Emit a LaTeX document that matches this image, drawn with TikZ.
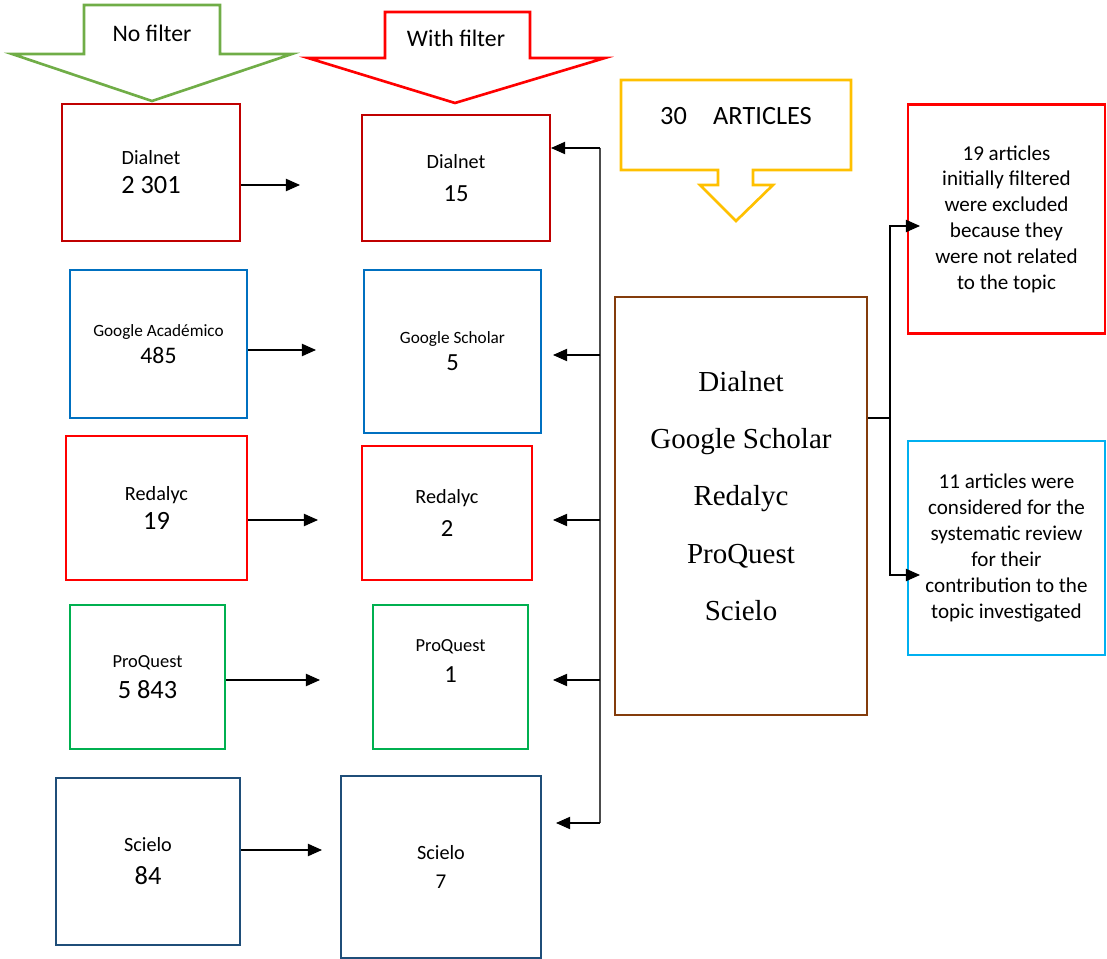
\documentclass[tikz,border=0pt]{standalone}
\usepackage{fontspec}
\setmainfont{Carlito}
\newfontfamily\serifnames{Liberation Serif}
\usetikzlibrary{arrows.meta}
\definecolor{dialred}{HTML}{C00000}
\definecolor{gblue}{HTML}{0070C0}
\definecolor{redred}{HTML}{FF0000}
\definecolor{pqgreen}{HTML}{00B050}
\definecolor{scblue}{HTML}{1F4E79}
\definecolor{brownbox}{HTML}{843C0C}
\definecolor{artyellow}{HTML}{FFC000}
\definecolor{nofgreen}{HTML}{70AD47}
\definecolor{okcyan}{HTML}{00B0F0}
\newcommand\dbname{\fontsize{11.5}{13}\selectfont}
\newcommand\dbsmall{\fontsize{9.8}{12}\selectfont}
\newcommand\dbcount{\fontsize{15}{16.5}\selectfont}
\newcommand\dbcountm{\fontsize{14}{16.5}\selectfont}

\begin{document}
\begin{tikzpicture}[x=0.02cm, y=-0.02cm,
  box/.style={draw, line width=1.2pt, inner sep=0pt, align=center},
  lines/.style={font=\fontsize{11}{#1pt}\selectfont},
  arr/.style={-{Triangle[length=8pt,width=7pt]}, line width=0.6pt},
  blk/.style={line width=1.5pt, line join=miter}]
\useasboundingbox (0,0) rectangle (1107,959);
% block arrows on top
\draw [blk, draw=nofgreen] (84,5) -- (220,5) -- (220,54) -- (292,54) -- (152,101) -- (12,54) -- (84,54) -- cycle;
\node (nof) at (152,33) {\fontsize{13.5}{16}\selectfont No filter};
\draw [blk, draw=redred] (385,12) -- (530,12) -- (530,58) -- (605,58) -- (455,103) -- (308,58) -- (385,58) -- cycle;
\node (wif) at (456,38) {\fontsize{13.5}{16}\selectfont With filter};
\draw [blk, draw=artyellow] (621,80) -- (851,80) -- (851,170) -- (753,170) -- (753,185) -- (773,185) -- (736,221)
  -- (700,185) -- (718,185) -- (718,170) -- (621,170) -- cycle;
\node (art) at (736,116) {\fontsize{15}{18}\selectfont 30\quad ARTICLES};
% no filter
\node [box, lines=16.5, draw=dialred, minimum width=3.56cm, minimum height=2.74cm] (l1) at (151,172.5) {\dbname Dialnet\\\dbcount 2 301};
\node [box, lines=15.3, draw=gblue, minimum width=3.54cm, minimum height=2.96cm] (l2) at (158.5,344) {\dbsmall Google Académico\\\fontsize{13.5}{15}\selectfont 485};
\node [box, lines=16.5, draw=redred, minimum width=3.62cm, minimum height=2.88cm] (l3) at (156.5,508) {\dbname Redalyc\\\dbcount 19};
\node [box, lines=18, draw=pqgreen, minimum width=3.10cm, minimum height=2.88cm] (l4) at (147.5,677) {\fontsize{10.5}{12}\selectfont ProQuest\\\dbcount 5 843};
\node [box, lines=18.7, draw=scblue, minimum width=3.68cm, minimum height=3.34cm] (l5) at (148,861.5) {\dbname Scielo\\\dbcount 84};
% with filter
\node [box, lines=19, draw=dialred, minimum width=3.76cm, minimum height=2.52cm] (m1) at (456,178) {\dbname Dialnet\\\dbcountm 15};
\node [box, lines=15.3, draw=gblue, minimum width=3.54cm, minimum height=3.26cm] (m2) at (452.5,351.5) {\dbsmall Google Scholar\\\dbcountm 5};
\node [box, lines=18.7, draw=redred, minimum width=3.40cm, minimum height=2.68cm] (m3) at (447,513) {\dbname Redalyc\\\dbcountm 2};
\node [box, lines=18, draw=pqgreen, minimum width=3.10cm, minimum height=2.88cm] (m4) at (450.5,677) {\fontsize{10.5}{12}\selectfont ProQuest\\\dbcountm 1\\[0pt]};
\node [box, lines=16.5, draw=scblue, minimum width=4.00cm, minimum height=3.64cm] (m5) at (441,867) {\dbname Scielo\\\fontsize{12}{16.5}\selectfont 7};
% sources and result
\node [box, draw=brownbox, minimum width=5.04cm, minimum height=8.36cm, font=\serifnames\fontsize{16.5}{32.5}\selectfont] (c) at (741,506)
  {Dialnet\\Google Scholar\\Redalyc\\ProQuest\\Scielo\\[-21pt]};
\node [box, draw=redred, minimum width=3.94cm, minimum height=4.58cm, font=\fontsize{12}{14.7}\selectfont] (r1) at (1006.5,219)
  {19 articles\\initially filtered\\were excluded\\because they\\were not related\\to the topic};
\node [box, draw=okcyan, minimum width=3.94cm, minimum height=4.28cm, font=\fontsize{12}{14.7}\selectfont] (r2) at (1006.5,548)
  {11 articles were\\considered for the\\systematic review\\for their\\contribution to the\\topic investigated};
% arrows no filter -> with filter
\coordinate (t1) at (300,185);
\coordinate (t2) at (316,350);
\coordinate (t3) at (318,520);
\coordinate (t4) at (320,680);
\coordinate (t5) at (322,850);
\draw [arr] (t1 -| l1.east) -- (t1);
\draw [arr] (t2 -| l2.east) -- (t2);
\draw [arr] (t3 -| l3.east) -- (t3);
\draw [arr] (t4 -| l4.east) -- (t4);
\draw [arr] (t5 -| l5.east) -- (t5);
% bus back to the filtered boxes
\coordinate (b1) at (600,148);
\coordinate (b2) at (600,355);
\coordinate (b3) at (600,520);
\coordinate (b4) at (600,680);
\coordinate (b5) at (600,823);
\draw [line width=0.9pt, color=black!70] (b1) -- (b5);
\draw [arr] (b1) -- (b1 -| m1.east);
\draw [arr] (b2) -- ([xshift=11*0.02cm]b2 -| m2.east);
\draw [arr] (b3) -- ([xshift=20*0.02cm]b3 -| m3.east);
\draw [arr] (b4) -- ([xshift=24*0.02cm]b4 -| m4.east);
\draw [arr] (b5) -- ([xshift=14*0.02cm]b5 -| m5.east);
% split to the two results
\coordinate (j) at (890,418);
\coordinate (e1) at (920,226);
\coordinate (e2) at (920,575);
\draw [line width=0.6pt] (j -| c.east) -- (j);
\draw [arr] (j) |- (e1);
\draw [arr] (j) |- (e2);
\end{tikzpicture}
\end{document}
